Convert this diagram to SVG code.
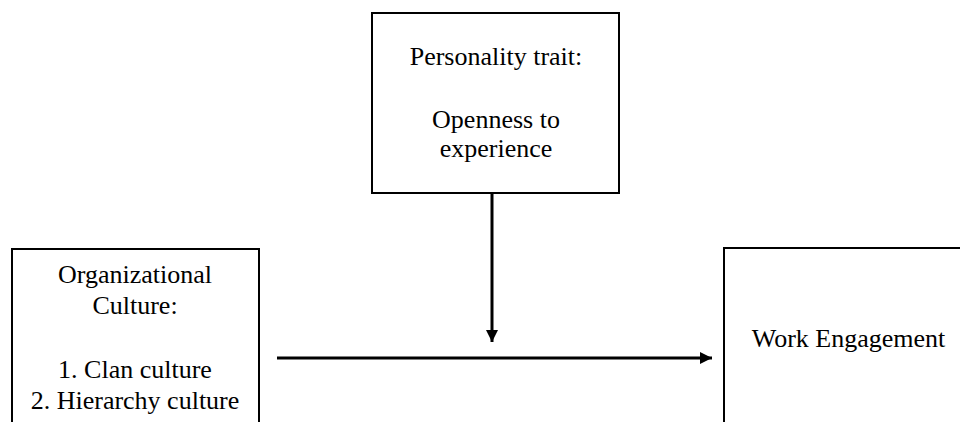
<svg xmlns="http://www.w3.org/2000/svg" width="960" height="422" viewBox="0 0 960 422">
<defs>
<style>
.box{fill:#fff;stroke:#000;stroke-width:2}
.t{font-family:"Liberation Serif","Times New Roman",serif;font-size:26px;fill:#000;text-anchor:middle}
.c{stroke:#000;stroke-width:3;fill:none}
</style>
<marker id="ah" markerWidth="4" markerHeight="4" refX="4" refY="2" orient="auto" markerUnits="strokeWidth">
<path d="M0,0 L4,2 L0,4 Z" fill="#000"/>
</marker>
</defs>
<rect width="960" height="422" fill="#fff"/>
<g id="personality">
<rect class="box" x="372" y="13" width="247" height="180"/>
<text class="t" x="496" y="65">Personality trait:</text>
<text class="t" x="496" y="128">Openness to</text>
<text class="t" x="496" y="157">experience</text>
</g>
<g id="culture">
<rect class="box" x="12" y="249" width="247" height="200"/>
<text class="t" x="135" y="283">Organizational</text>
<text class="t" x="135" y="314">Culture:</text>
<text class="t" x="135" y="378">1. Clan culture</text>
<text class="t" x="135" y="409">2. Hierarchy culture</text>
</g>
<g id="engagement">
<rect class="box" x="724" y="248" width="260" height="200"/>
<text class="t" x="848.5" y="347">Work Engagement</text>
</g>
<g id="connectors">
<line class="c" x1="492" y1="194" x2="492" y2="342" marker-end="url(#ah)"/>
<line class="c" x1="277" y1="358" x2="712" y2="358" marker-end="url(#ah)"/>
</g>
</svg>
